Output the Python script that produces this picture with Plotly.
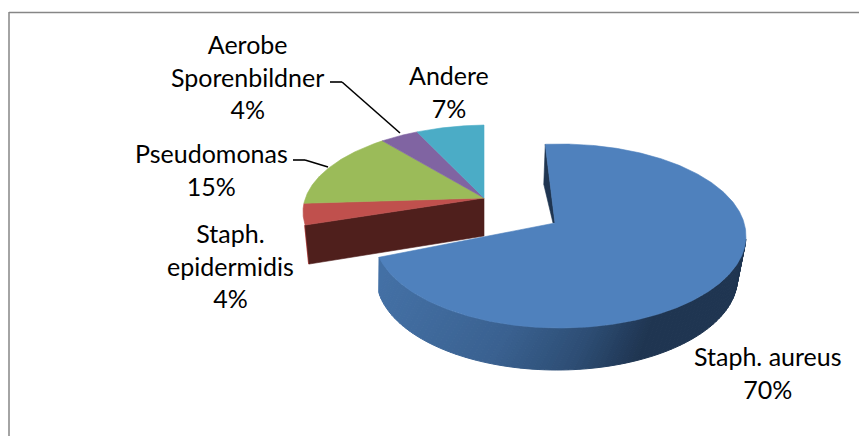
import numpy as np
import plotly.graph_objects as go

# --- chart data ---
categories = ["Staph. aureus", "Staph.<br>epidermidis", "Pseudomonas", "Aerobe<br>Sporenbildner", "Andere"]
values = [70, 4, 15, 4, 7]
percent_labels = ["70%", "4%", "15%", "4%", "7%"]
colors = ["#4f81bd", "#c0504d", "#9bbb59", "#8064a2", "#4bacc6"]

# --- label centres (px) ---
label_x = [768, 230, 211, 247, 449]
label_y = [372, 265, 169, 76.5, 91]

# --- projection of the tilted disc: pixel space ---
BIG = dict(apex=(555.0, 223.0), c=(560.0, 236.0), a=186.0, b=92.0, rot=-3.5)
SMALL = dict(apex=(484.0, 198.0), c=(490.0, 212.0), a=187.0, b=87.0, rot=0.0)
BIG_LOW = dict(c=(557.0, 278.0), a=180.5, b=92.0)
FONT = "Lato"
FS = 25

total = sum(values)
edges = np.concatenate([[0], np.cumsum(values)]) / total * 360.0


def ray(g, theta):
    """Where the ray at pie angle theta (deg, clockwise from 12h) meets the ellipse."""
    t = np.radians(np.asarray(theta, float) + g["rot"])
    ax = (g["apex"][0] - g["c"][0]) / g["a"]
    ay = (g["c"][1] - g["apex"][1]) / g["b"]
    dx, dy = np.sin(t), np.cos(t)
    p = ax * dx + ay * dy
    s = -p + np.sqrt(p * p - (ax * ax + ay * ay - 1))
    return g["c"][0] + g["a"] * (ax + s * dx), g["c"][1] - g["b"] * (ay + s * dy)


def wedge(g, t0, t1):
    th = np.linspace(t0, t1, max(int(t1 - t0) * 2, 8))
    x, y = ray(g, th)
    return ([g["apex"][0], *x, g["apex"][0]], [g["apex"][1], *y, g["apex"][1]])


def ell(g, phi):
    r = np.radians(phi)
    return g["c"][0] + g["a"] * np.sin(r), g["c"][1] - g["b"] * np.cos(r)


def poly(x, y, color, lw=0.6):
    return go.Scatter(x=list(x), y=list(y), mode="lines", fill="toself", fillcolor=color,
                      line=dict(color=color, width=lw), hoverinfo="skip", showlegend=False)


def lerp_hex(stops, v):
    xs = [s[0] for s in stops]
    rgb = [np.interp(v, xs, [int(s[1][i:i + 2], 16) for s in stops]) for i in (1, 3, 5)]
    return "rgb(%d,%d,%d)" % tuple(rgb)


fig = go.Figure()

# exploded-apart group: cut face of the red slice, then tops
x0, y0 = ray(SMALL, edges[1])
ax0, ay0 = SMALL["apex"]
fig.add_trace(go.Scatter(x=[x0, x0 + 4], y=[y0, y0 + 39], mode="lines", hoverinfo="skip", showlegend=False,
                         line=dict(color=colors[1], width=2)))
fig.add_trace(poly([ax0, x0, x0 + 4, ax0, ax0], [ay0, y0, y0 + 39, ay0 + 38, ay0], "#4f1f1c"))
for i in range(1, 5):
    xs, ys = wedge(SMALL, edges[i], edges[i + 1])
    fig.add_trace(poly(xs, ys, colors[i]))

# big slice: inner cut sliver, rim with gradient, top
bx, by = ray(BIG, 0)
fig.add_trace(poly([bx, bx - 1.5, BIG["apex"][0] - 2, BIG["apex"][0], bx],
                   [by, by + 40, BIG["apex"][1], BIG["apex"][1], by], "#1f3551"))

shade = [(375, "#4471a6"), (500, "#3a6190"), (580, "#2d4d74"), (645, "#1f3551"), (745, "#1f3651")]
N = 90
# rim between the end of the slice (left) and the 3 o'clock side (right)
end_x, end_y = ray(BIG, edges[1])
phi_up = np.linspace(250, 92, N + 1)
phi_lo = np.linspace(261, 92, N + 1)
ux, uy = ell(BIG, phi_up)
lx, ly = ell(BIG_LOW, phi_lo)
ux[0], uy[0] = end_x, end_y
for k in range(N):
    xs = [ux[k], ux[k + 1], lx[k + 1], lx[k], ux[k]]
    ys = [uy[k], uy[k + 1], ly[k + 1], ly[k], uy[k]]
    fig.add_trace(poly(xs, ys, lerp_hex(shade, (ux[k] + lx[k]) / 2), lw=1))

xs, ys = wedge(BIG, edges[0], edges[1])
fig.add_trace(poly(xs, ys, colors[0]))

annotations = [
    dict(x=lx_, y=ly_, text=f"{c}<br>{p}", showarrow=False, xanchor="center", yanchor="middle",
         font=dict(family=FONT, size=FS, color="#000000"), align="center")
    for c, p, lx_, ly_ in zip(categories, percent_labels, label_x, label_y)
]

line_style = dict(color="#000000", width=1.6)
frame_style = dict(color="#868686", width=1.5)
shapes = [
    dict(type="line", x0=9, y0=12.5, x1=859, y1=12.5, line=frame_style),
    dict(type="line", x0=9, y0=12, x1=9, y1=436, line=frame_style),
    dict(type="line", x0=293, y0=160, x1=305, y1=160, line=line_style),
    dict(type="line", x0=305, y0=160, x1=328, y1=167, line=line_style),
    dict(type="line", x0=330, y0=82, x1=342, y1=82, line=line_style),
    dict(type="line", x0=342, y0=82, x1=400, y1=133, line=line_style),
]

fig.update_layout(
    width=859, height=436, margin=dict(l=0, r=0, t=0, b=0),
    paper_bgcolor="white", plot_bgcolor="white", showlegend=False,
    xaxis=dict(range=[0, 859], visible=False, fixedrange=True),
    yaxis=dict(range=[436, 0], visible=False, fixedrange=True),
    annotations=annotations, shapes=shapes,
)
fig.write_html("out.html", config={"displayModeBar": False},
               post_script="document.body.style.margin='0';document.body.style.overflow='hidden';")
